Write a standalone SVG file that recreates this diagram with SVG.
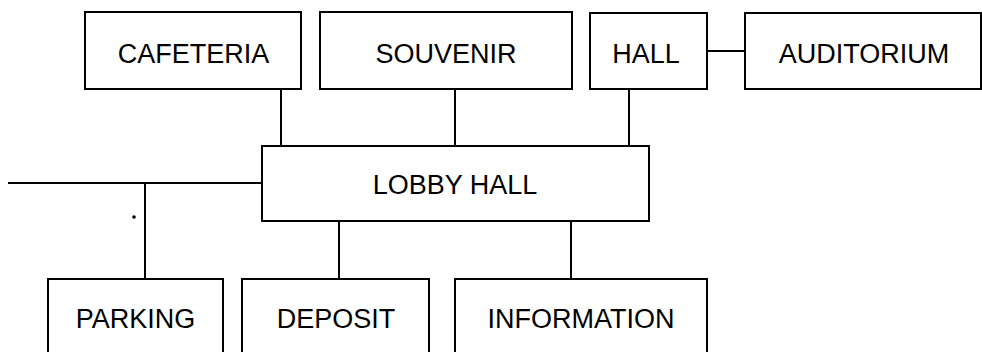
<svg xmlns="http://www.w3.org/2000/svg" width="982" height="352" viewBox="0 0 982 352">
<style>
.box{fill:#fff;stroke:#000;stroke-width:2}
.lbl{font-family:"Liberation Sans",Arial,sans-serif;font-size:27px;fill:#000;text-anchor:middle}
.con line{stroke:#000;stroke-width:2}
</style>
<rect width="982" height="352" fill="#fff"/>
<g class="con" id="connectors">
<line x1="281" y1="89" x2="281" y2="146"/>
<line x1="455" y1="89" x2="455" y2="146"/>
<line x1="629" y1="89" x2="629" y2="146"/>
<line x1="707" y1="51" x2="745" y2="51"/>
<line x1="8" y1="183" x2="262" y2="183"/>
<line x1="145" y1="183" x2="145" y2="279"/>
<line x1="339" y1="221" x2="339" y2="279"/>
<line x1="571" y1="221" x2="571" y2="279"/>
</g>
<circle cx="134" cy="217" r="1.8" fill="#000"/>
<g id="cafeteria"><rect class="box" x="85" y="12" width="216" height="77"/><text class="lbl" x="193.5" y="63">CAFETERIA</text></g>
<g id="souvenir"><rect class="box" x="320" y="12" width="252" height="77"/><text class="lbl" x="446" y="63">SOUVENIR</text></g>
<g id="hall"><rect class="box" x="590" y="13" width="117" height="76"/><text class="lbl" x="646" y="63">HALL</text></g>
<g id="auditorium"><rect class="box" x="745" y="13" width="236" height="76"/><text class="lbl" x="864" y="63">AUDITORIUM</text></g>
<g id="lobby"><rect class="box" x="262" y="146" width="387" height="75"/><text class="lbl" x="455" y="194">LOBBY HALL</text></g>
<g id="parking"><rect class="box" x="48" y="279" width="175" height="90"/><text class="lbl" x="135.5" y="328">PARKING</text></g>
<g id="deposit"><rect class="box" x="242" y="279" width="187" height="90"/><text class="lbl" x="336" y="328">DEPOSIT</text></g>
<g id="information"><rect class="box" x="455" y="279" width="252" height="90"/><text class="lbl" x="581" y="328">INFORMATION</text></g>
</svg>
